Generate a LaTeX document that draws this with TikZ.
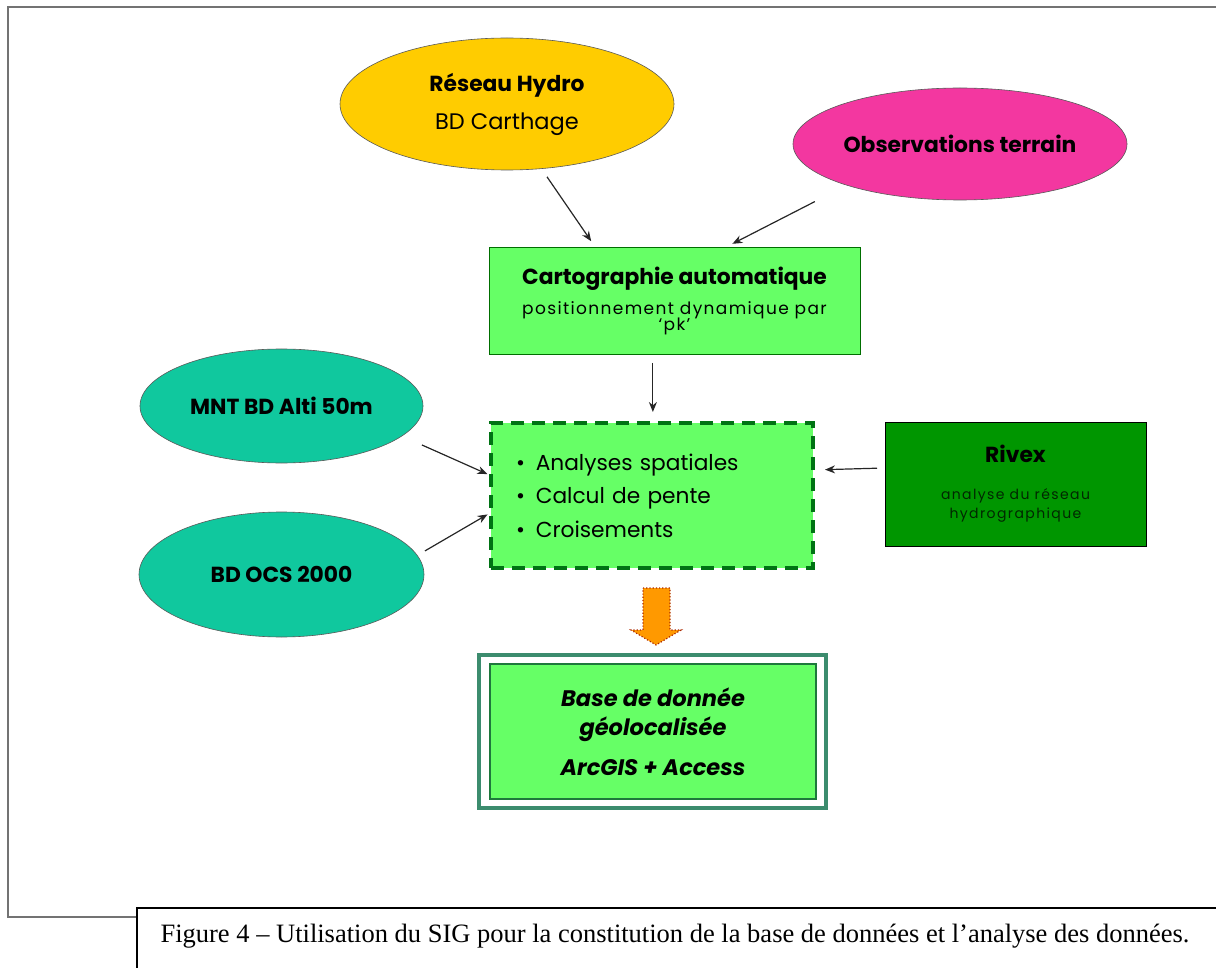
\documentclass[tikz,border=0pt]{standalone}
\usepackage{fontspec}
\setmainfont{Liberation Serif}
\setsansfont{Poppins}
\usetikzlibrary{positioning,arrows.meta,shapes.geometric}

\definecolor{hydrogold}{RGB}{255,204,0}
\definecolor{obspink}{RGB}{243,55,160}
\definecolor{tealsrc}{RGB}{16,200,158}
\definecolor{lightgreen}{RGB}{102,255,102}
\definecolor{darkgreen}{RGB}{0,110,0}
\definecolor{dashgreen}{RGB}{0,115,20}
\definecolor{rivexgreen}{RGB}{0,150,0}
\definecolor{rivextext}{RGB}{0,40,0}
\definecolor{basegreen}{RGB}{30,120,60}
\definecolor{baseteal}{RGB}{60,140,110}
\definecolor{arrorange}{RGB}{255,153,0}
\definecolor{arrdot}{RGB}{170,40,0}

\newcommand\sigtitle{\fontsize{21.8}{23}\selectfont}
\newcommand\sigbody{\fontsize{21.7}{33.5}\selectfont}
\newcommand\sigsub{\fontsize{17}{19}\selectfont\addfontfeatures{LetterSpace=8}}
\newcommand\sigsmall{\fontsize{14}{16}\selectfont\addfontfeatures{LetterSpace=10}\color{rivextext}}

\begin{document}
\begin{tikzpicture}[x=1pt, y=-1pt,
  font=\sffamily,
  src/.style={ellipse, draw=black!65, line width=0.6pt, inner sep=0pt, outer sep=0pt,
              align=center, font=\sffamily\sigtitle},
  box/.style={rectangle, draw=darkgreen, line width=0.8pt, inner sep=0pt, outer sep=0pt,
              align=center, fill=lightgreen, font=\sffamily\sigtitle},
  arr/.style={-{Stealth[length=10pt,width=8pt]}, line width=1.2pt, draw=black!85},
  frame/.style={draw=black!55, line width=1.6pt},
  capline/.style={draw=black, line width=1.6pt}
]
\useasboundingbox (0,0) rectangle (1216,968);

\draw[frame] (137,917) -- (8,917) -- (8,7) -- (1216,7);
\draw[capline] (137,968) -- (137,908) -- (1216,908);

\node[src, fill=hydrogold, minimum width=334pt, minimum height=132pt] (hydro) at (507,104)
  {{\bfseries Réseau Hydro}\\[15pt] \fontsize{22.5}{23}\selectfont BD Carthage};
\node[src, fill=obspink, minimum width=334pt, minimum height=112pt] (obs) at (960,144)
  {\bfseries Observations terrain};
\node[src, fill=tealsrc, minimum width=283pt, minimum height=114pt] (mnt) at (281.5,406)
  {\bfseries MNT BD Alti 50m};
\node[src, fill=tealsrc, minimum width=285pt, minimum height=125pt] (ocs) at (281.5,574.5)
  {\bfseries BD OCS 2000};

\node[box, minimum width=371pt, minimum height=107pt] (carto) at (674.5,300.5)
  {{\bfseries Cartographie automatique}\\[7pt] \sigsub positionnement dynamique par\\[-7pt] \sigsub `pk'};
\node[box, draw=dashgreen, line width=3.5pt, dash pattern=on 13pt off 8pt,
      minimum width=322pt, minimum height=145pt, align=left, text width=272pt,
      font=\sffamily\sigbody] (ana) at (652,495.5)
  {\textbullet\enspace Analyses spatiales\\ \textbullet\enspace Calcul de pente\\ \textbullet\enspace Croisements};
\node[box, fill=rivexgreen, draw=black, minimum width=261pt, minimum height=124pt] (rivex) at (1015.5,484)
  {{\bfseries Rivex}\\[14pt] \sigsmall analyse du réseau\\[-4pt] \sigsmall hydrographique};
\node[box, draw=basegreen, line width=1.5pt, minimum width=326pt, minimum height=135pt,
      font=\sffamily\bfseries\itshape\fontsize{22.5}{29}\selectfont] (base) at (653,731.5)
  {Base de donnée\\ géolocalisée\\[11pt] ArcGIS + Access};
\draw[draw=baseteal, line width=3.5pt] ([xshift=-11pt,yshift=9pt]base.north west)
  rectangle ([xshift=10pt,yshift=-9pt]base.south east);

\draw[fill=arrorange, draw=arrdot, dotted, line width=1.2pt] (643,588) -- (670,588) -- (670,630)
  -- (681,630) -- (656,645) -- (631,630) -- (643,630) -- cycle;

\draw[arr, shorten <=10pt, shorten >=7pt] (hydro.-62) -- (carto.146.7);
\draw[arr, shorten <=36pt, shorten >=7pt] (obs.-160) -- (carto.46.6);
\draw[arr, shorten <=9pt, shorten >=11pt] (carto.-112) -- (ana.north -| carto.-112);
\draw[arr, shorten <=22pt, shorten >=4pt] (mnt.-14) -- (ana.173.4);
\draw[arr, shorten <=9pt, shorten >=4pt] (ocs.8.5) -- (ana.-174.6);
\draw[arr, shorten <=8pt, shorten >=12pt] (rivex.173) -- (ana.9.7);

\node[font=\rmfamily\fontsize{26.5}{30}\selectfont, anchor=base, inner sep=0pt] (capt) at (675,942)
  {Figure 4 -- Utilisation du SIG pour la constitution de la base de données et l'analyse des données.};
\end{tikzpicture}
\end{document}
